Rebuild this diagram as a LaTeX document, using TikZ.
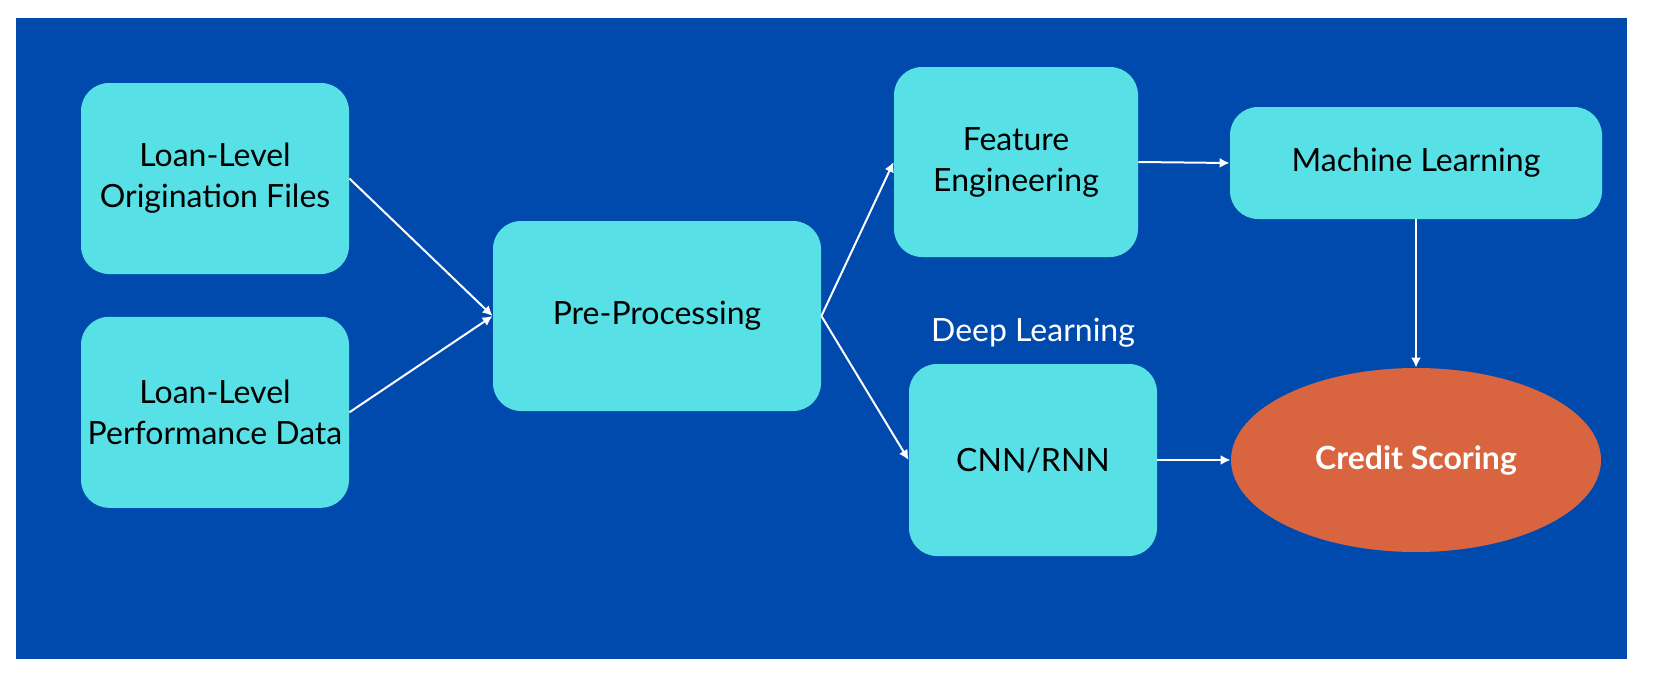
\documentclass[tikz,border=0pt]{standalone}
\usepackage{fontspec}
\setmainfont{Lato}
\usetikzlibrary{
arrows.meta,
positioning,
shapes.geometric
}
\definecolor{CSBlue}{HTML}{004AAD}
\definecolor{CSCyan}{HTML}{57E1E6}
\definecolor{CSOrange}{HTML}{D96540}
\tikzset{
csbox/.style={fill=CSCyan, rounded corners=14pt, align=center, text=black,
  inner sep=0pt, font=\fontsize{16}{20.5}\selectfont},
csoval/.style={ellipse, fill=CSOrange, align=center, text=white, inner sep=0pt,
  minimum width=185pt, minimum height=92pt, font=\fontsize{16}{20.5}\selectfont\bfseries},
cslabel/.style={text=white, inner sep=0pt, font=\fontsize{16}{20.5}\selectfont},
csarrow/.style={-{Latex[length=5pt,width=5pt]}, line width=1pt, draw=white}
}
\begin{document}
\begin{tikzpicture}[x=0.5pt, y=-0.5pt, node distance=21pt]
\useasboundingbox (0,0) rectangle (1664,680);
\fill[CSBlue] (16,18) rectangle (1627,659);

\node[csbox, minimum width=134pt, minimum height=95.5pt] (orig) at (215,178.5) {Loan-Level\\Origination Files};
\node[csbox, minimum width=134pt, minimum height=95.5pt, below=of orig] (perf) {Loan-Level\\Performance Data};
\node[csbox, minimum width=164pt, minimum height=95pt] (pre) at (657,316) {Pre-Processing};
\node[csbox, minimum width=122pt, minimum height=95pt] (feat) at (1016,162) {Feature\\Engineering};
\node[csbox, minimum width=186pt, minimum height=56pt] (ml) at (1416,163) {Machine Learning};
\node[csbox, minimum width=124pt, minimum height=96pt] (cnn) at (1033,460) {CNN/RNN};
\node[cslabel, above=8pt of cnn] (deep) {Deep Learning};
\node[csoval] (credit) at (1416,460) {Credit Scoring};

\draw[csarrow] (orig.east) -- (pre.west);
\draw[csarrow] (perf.east) -- (pre.west);
\draw[csarrow] (pre.east) -- (feat.west);
\draw[csarrow] (pre.east) -- (cnn.west);
\draw[csarrow] (feat.east) -- (ml.west);
\draw[csarrow] (ml.south) -- (credit.north);
\draw[csarrow] (cnn.east) -- (credit.west);
\end{tikzpicture}
\end{document}
